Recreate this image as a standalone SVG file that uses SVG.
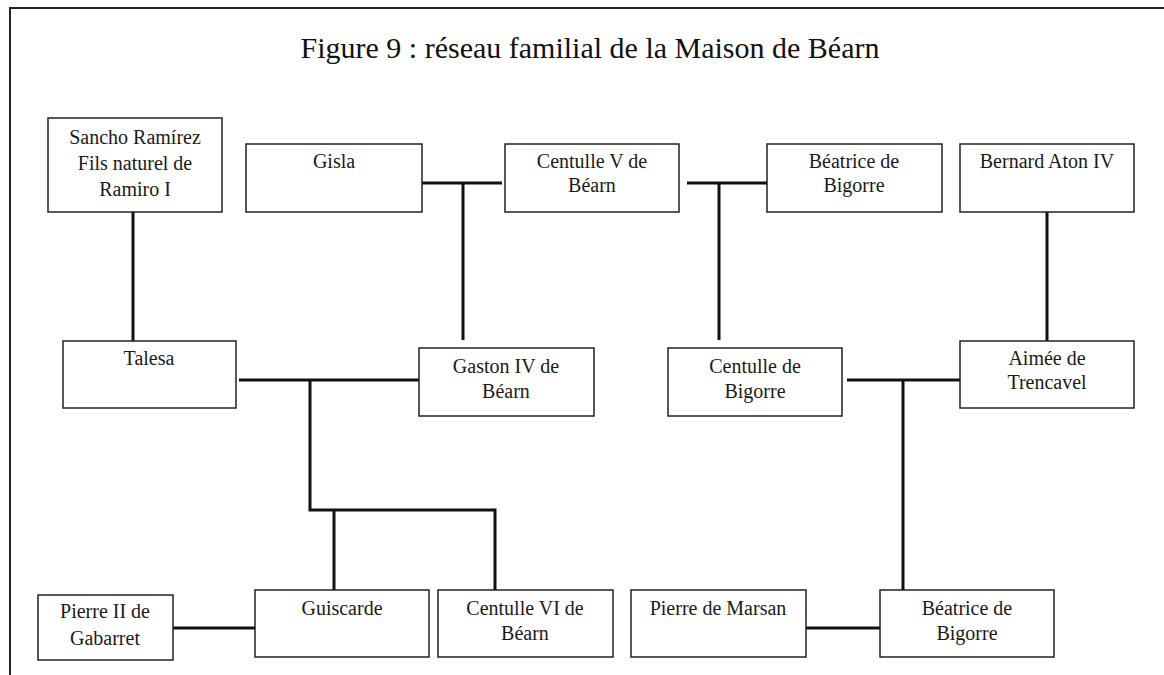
<svg xmlns="http://www.w3.org/2000/svg" width="1164" height="675" viewBox="0 0 1164 675">
<style>
.box{fill:#fff;stroke:#222;stroke-width:1.5}
.t{font-family:"Liberation Serif","Times New Roman",serif;font-size:20px;fill:#1a1a1a;text-anchor:middle}
.title{font-family:"Liberation Serif","Times New Roman",serif;font-size:30px;fill:#111;text-anchor:middle}
.c{stroke:#111;stroke-width:3;fill:none;stroke-linejoin:miter}
</style>
<rect width="1164" height="675" fill="#fff"/>
<path d="M10,675 V8 H1164" fill="none" stroke="#222" stroke-width="2"/>
<text class="title" x="590" y="58">Figure 9 : réseau familial de la Maison de Béarn</text>
<g id="connectors">
<path class="c" d="M133,212 V341"/>
<path class="c" d="M422,183 H502"/>
<path class="c" d="M463,183 V340"/>
<path class="c" d="M687,183 H767"/>
<path class="c" d="M719,183 V340"/>
<path class="c" d="M1047,209 V341"/>
<path class="c" d="M239,380 H421"/>
<path class="c" d="M310,380 V510 H495 V590"/>
<path class="c" d="M334,510 V590"/>
<path class="c" d="M847,380 H960"/>
<path class="c" d="M903,380 V590"/>
<path class="c" d="M173,628 H255"/>
<path class="c" d="M806,628 H880"/>
</g>
<g id="sancho"><rect class="box" x="48" y="118" width="174" height="94"/><text class="t" x="135" y="144">Sancho Ramírez</text><text class="t" x="135" y="170">Fils naturel de</text><text class="t" x="135" y="196">Ramiro I</text></g>
<g id="gisla"><rect class="box" x="246" y="144" width="176" height="68"/><text class="t" x="334" y="168">Gisla</text></g>
<g id="centulle5"><rect class="box" x="505" y="144" width="174" height="68"/><text class="t" x="592" y="168">Centulle V de</text><text class="t" x="592" y="192">Béarn</text></g>
<g id="beatrice1"><rect class="box" x="767" y="144" width="175" height="68"/><text class="t" x="854" y="168">Béatrice de</text><text class="t" x="854" y="192">Bigorre</text></g>
<g id="bernard"><rect class="box" x="960" y="144" width="174" height="68"/><text class="t" x="1047" y="168">Bernard Aton IV</text></g>
<g id="talesa"><rect class="box" x="63" y="341" width="173" height="67"/><text class="t" x="149" y="365">Talesa</text></g>
<g id="gaston"><rect class="box" x="419" y="348" width="175" height="68"/><text class="t" x="506" y="373">Gaston IV de</text><text class="t" x="506" y="398">Béarn</text></g>
<g id="centulleBig"><rect class="box" x="668" y="348" width="174" height="68"/><text class="t" x="755" y="373">Centulle de</text><text class="t" x="755" y="398">Bigorre</text></g>
<g id="aimee"><rect class="box" x="960" y="341" width="174" height="67"/><text class="t" x="1047" y="365">Aimée de</text><text class="t" x="1047" y="389">Trencavel</text></g>
<g id="pierre2"><rect class="box" x="38" y="595" width="135" height="65"/><text class="t" x="105" y="618">Pierre II de</text><text class="t" x="105" y="645">Gabarret</text></g>
<g id="guiscarde"><rect class="box" x="255" y="590" width="174" height="67"/><text class="t" x="342" y="615">Guiscarde</text></g>
<g id="centulle6"><rect class="box" x="438" y="590" width="175" height="67"/><text class="t" x="525" y="615">Centulle VI de</text><text class="t" x="525" y="640">Béarn</text></g>
<g id="marsan"><rect class="box" x="631" y="590" width="175" height="67"/><text class="t" x="718" y="615">Pierre de Marsan</text></g>
<g id="beatrice2"><rect class="box" x="880" y="590" width="174" height="67"/><text class="t" x="967" y="615">Béatrice de</text><text class="t" x="967" y="640">Bigorre</text></g>
</svg>
